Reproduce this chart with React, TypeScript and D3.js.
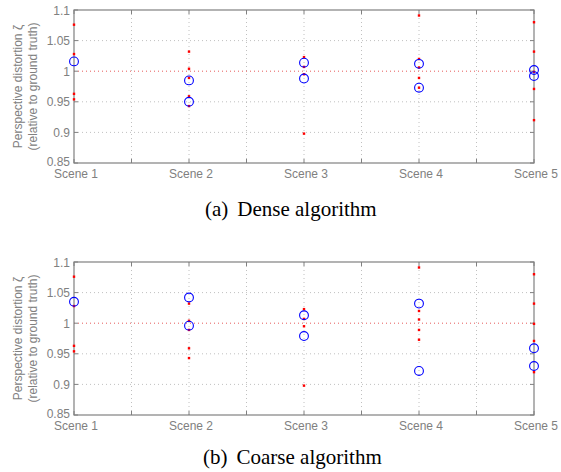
import React from "react";
import * as d3 from "d3";

// scene labels, one per x position
const scenes = ["Scene 1", "Scene 2", "Scene 3", "Scene 4", "Scene 5"];
const yTicks = [0.85, 0.9, 0.95, 1, 1.05, 1.1];

// small red dots, shared by both plots
const redDots = [
  [1.076, 1.028, 0.963, 0.954],
  [1.032, 1.004, 0.989, 0.959, 0.943],
  [1.023, 1.007, 0.995, 0.898],
  [1.091, 1.02, 1.006, 0.989, 0.973],
  [1.08, 1.032, 0.999, 0.971, 0.92],
];

// blue circles
const denseVals = [[1.016], [0.985, 0.95], [1.014, 0.988], [1.012, 0.973], [1.002, 0.992]];
const coarseVals = [[1.035], [1.042, 0.996], [1.013, 0.979], [1.032, 0.922], [0.959, 0.93]];

const GRAY = "#808080";
const FONT = "'Liberation Sans', Arial, sans-serif";

const Panel = ({ top, blue, tag, caption, capX, capY }) => {
  const left = 74;
  const right = 534;
  const bottom = top + 153;
  const x = d3.scaleLinear().domain([1, 5]).range([left, right]);
  const y = d3.scaleLinear().domain([0.85, 1.1]).range([bottom, top]);
  const xGrid = d3.range(1, 5.01, 0.5);
  const tk = 4;

  return (
    <g>
      {/* grid */}
      {xGrid.slice(1, -1).map((v) => (
        <line key={"gx" + v} x1={x(v)} x2={x(v)} y1={top} y2={bottom} stroke="#b0b0b0" strokeWidth={0.8} strokeDasharray="1,3" />
      ))}
      {yTicks.slice(1, -1).map((v) => (
        <line key={"gy" + v} x1={left} x2={right} y1={y(v)} y2={y(v)}
          stroke={v === 1 ? "#e03030" : "#b0b0b0"} strokeWidth={0.8} strokeDasharray="1,3" />
      ))}
      {/* box */}
      <rect x={left} y={top} width={right - left} height={bottom - top} fill="none" stroke={GRAY} strokeWidth={1.2} />
      {/* ticks */}
      {xGrid.map((v) => (
        <g key={"tx" + v}>
          <line x1={x(v)} x2={x(v)} y1={bottom} y2={bottom - tk} stroke={GRAY} />
          <line x1={x(v)} x2={x(v)} y1={top} y2={top + tk} stroke={GRAY} />
        </g>
      ))}
      {yTicks.map((v) => (
        <g key={"ty" + v}>
          <line x1={left} x2={left + tk} y1={y(v)} y2={y(v)} stroke={GRAY} />
          <line x1={right} x2={right - tk} y1={y(v)} y2={y(v)} stroke={GRAY} />
          <text x={left - 4} y={y(v) + (v === 0.85 ? 3 : 4.5)} textAnchor="end" fontSize={12} fill={GRAY} fontFamily={FONT}>
            {d3.format("")(v)}
          </text>
        </g>
      ))}
      {scenes.map((s, i) => (
        <text key={s} x={x(i + 1) + 2} y={bottom + 15} textAnchor="middle" fontSize={12} fill={GRAY} fontFamily={FONT}>
          {s}
        </text>
      ))}
      {/* y label */}
      <text transform={`translate(22,${(top + bottom) / 2}) rotate(-90)`} textAnchor="middle" fontSize={12} fill={GRAY} fontFamily={FONT}>
        Perspective distortion ζ
      </text>
      <text transform={`translate(37,${(top + bottom) / 2}) rotate(-90)`} textAnchor="middle" fontSize={12} fill={GRAY} fontFamily={FONT}>
        (relative to ground truth)
      </text>
      {/* data */}
      {redDots.map((arr, i) =>
        arr.map((v, j) => <rect key={"r" + i + "-" + j} x={x(i + 1) - 1.2} y={y(v) - 1.2} width={2.4} height={2.4} fill="#ff0000" />)
      )}
      {blue.map((arr, i) =>
        arr.map((v, j) => (
          <circle key={"b" + i + "-" + j} cx={x(i + 1)} cy={y(v)} r={4.4} fill="none" stroke="#0000ff" strokeWidth={1.1} />
        ))
      )}
      <text x={capX} y={capY} fontSize={21} fontFamily="'Liberation Serif', 'Times New Roman', serif" fill="#000">
        <tspan>{tag}</tspan>
        <tspan dx={9}>{caption}</tspan>
      </text>
    </g>
  );
};

export default function App() {
  return (
    <svg width={561} height={472} style={{ position: "absolute", left: 0, top: 0, background: "#fff" }}>
      <Panel top={10} blue={denseVals} tag="(a)" caption="Dense algorithm" capX={205} capY={216} />
      <Panel top={262} blue={coarseVals} tag="(b)" caption="Coarse algorithm" capX={203} capY={464} />
    </svg>
  );
}
